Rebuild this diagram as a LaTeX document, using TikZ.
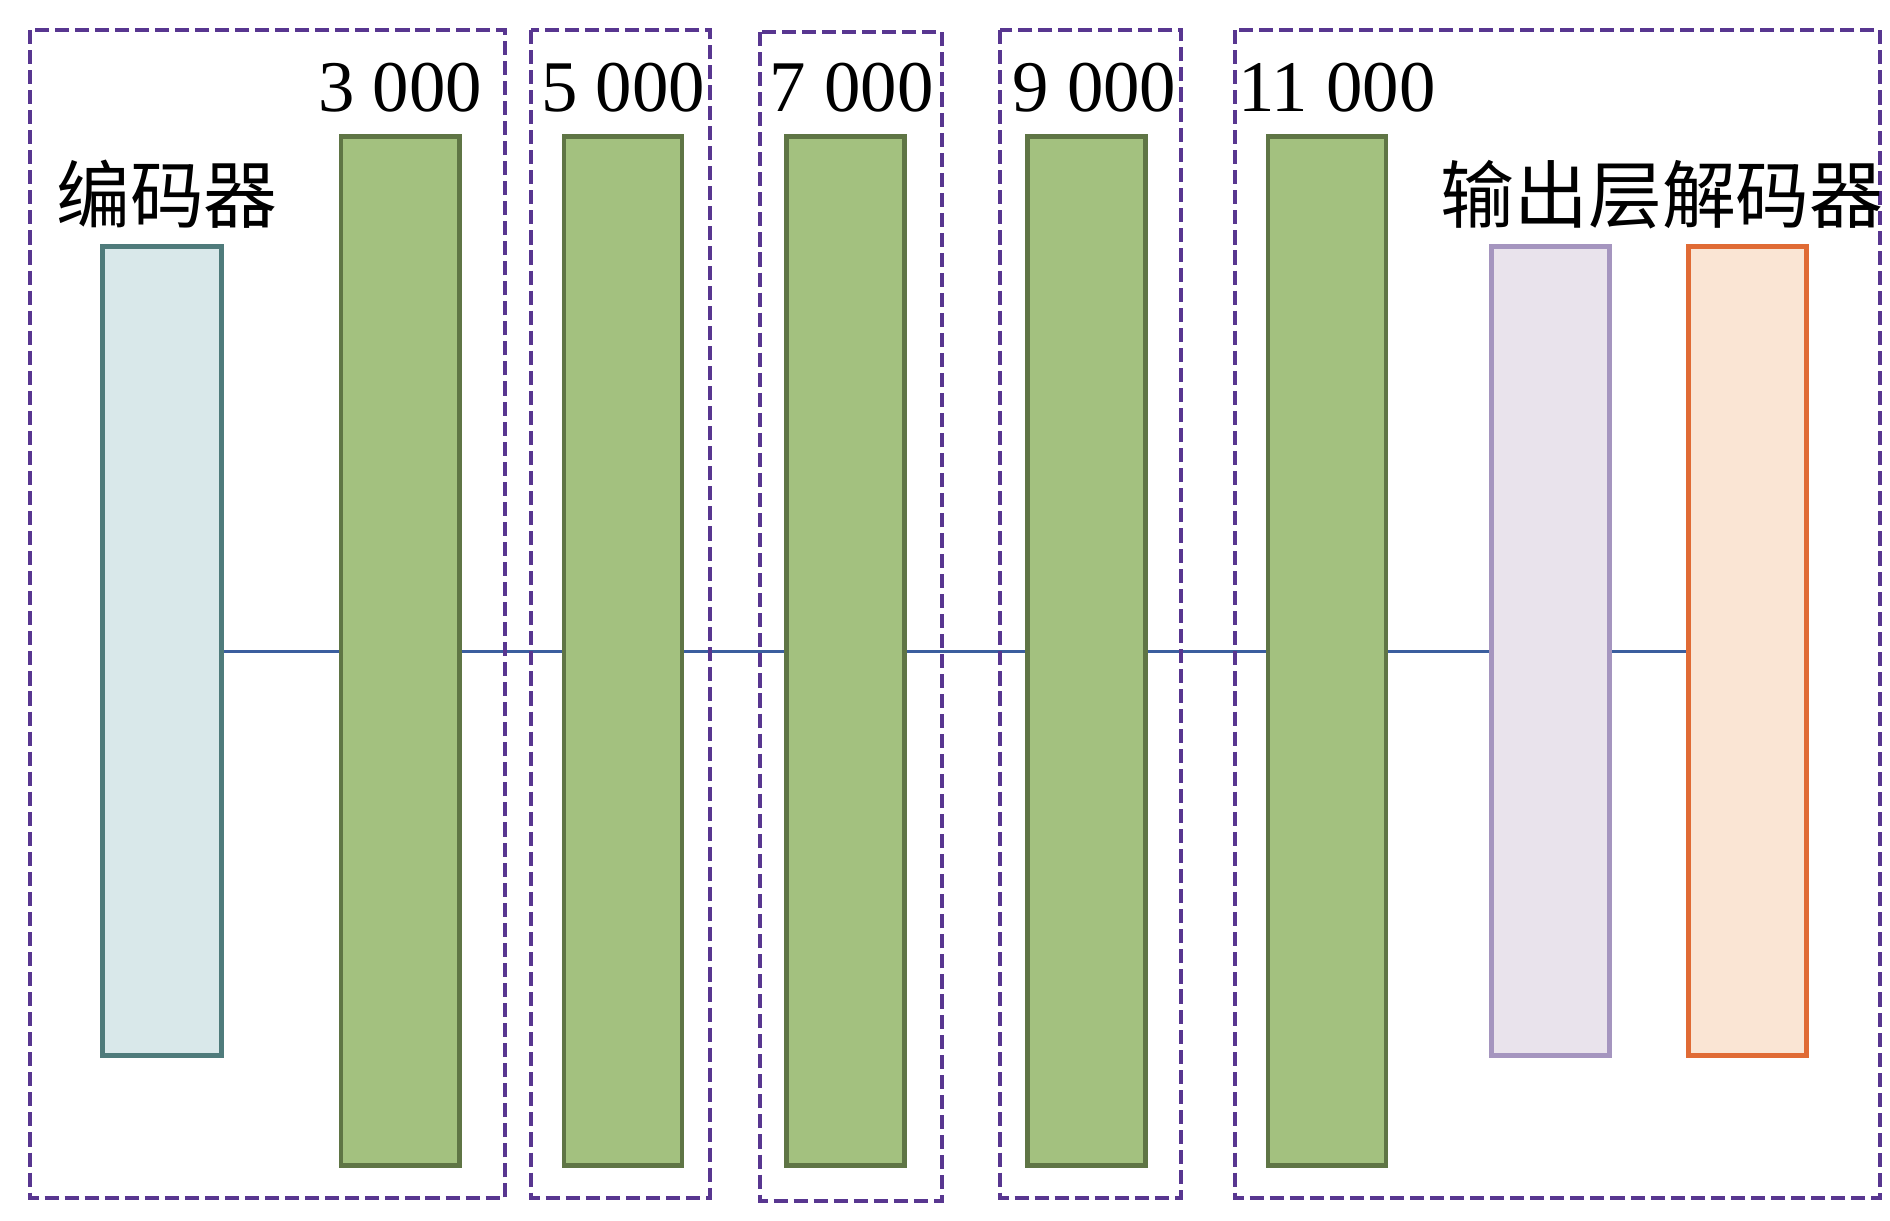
\documentclass[tikz,border=0pt]{standalone}
\usepackage{fontspec}
\setmainfont{Liberation Serif}
\newfontfamily\cjk{Noto Sans CJK SC}
\usepackage{xcolor}
\usepackage{tikz}
\usetikzlibrary{positioning}

\definecolor{encfill}{HTML}{D9E8EA}
\definecolor{encline}{HTML}{4F7B7B}
\definecolor{layfill}{HTML}{A3C17F}
\definecolor{layline}{HTML}{5F7545}
\definecolor{pfill}{HTML}{E9E3EC}
\definecolor{pline}{HTML}{A595BF}
\definecolor{decfill}{HTML}{FAE5D4}
\definecolor{decline}{HTML}{E06B35}
\definecolor{grpline}{HTML}{583690}
\definecolor{linkcol}{HTML}{3B5E9E}

\begin{document}
\begin{tikzpicture}[
  x=0.01cm, y=-0.01cm,
  bar/.style={draw, line width=1.3pt, inner sep=0pt,
              minimum width=1.18cm, minimum height=8.08cm},
  layer/.style={bar, fill=layfill, draw=layline, minimum height=10.28cm},
  num/.style={inner sep=0pt, font=\fontsize{20.7}{24}\selectfont},
  lbl/.style={inner sep=0pt, font=\cjk\fontsize{21}{24}\selectfont},
  grp/.style={draw=grpline, line width=1.3pt, dash pattern=on 4pt off 1.7pt},
  link/.style={draw=linkcol, line width=0.85pt}
]
\useasboundingbox (0,0) rectangle (1890,1221);

% encoder, hidden layers, decoder
\node[bar, fill=encfill, draw=encline, minimum width=1.19cm] (enc) at (162,651) {};
\node[layer, right=1.15cm of enc] (h1) {};
\node[layer, right=1.0cm of h1] (h2) {};
\node[layer, right=1.0cm of h2] (h3) {};
\node[layer, right=1.18cm of h3] (h4) {};
\node[layer, right=1.18cm of h4] (h5) {};
\node[bar, fill=pfill, draw=pline, right=1.01cm of h5] (outl) {};
\node[bar, fill=decfill, draw=decline, right=0.74cm of outl] (dec) {};

\draw[link] (enc) -- (h1);
\draw[link] (h1) -- (h2);
\draw[link] (h2) -- (h3);
\draw[link] (h3) -- (h4);
\draw[link] (h4) -- (h5);
\draw[link] (h5) -- (outl);
\draw[link] (outl) -- (dec);

% groups
\draw[grp] (30,30) rectangle (505,1198);
\draw[grp] (531,30) rectangle (710,1198);
\draw[grp] (760,32) rectangle (942,1201);
\draw[grp] (1000,30) rectangle (1181,1198);
\draw[grp] (1235,30) rectangle (1880,1198);

\node[num, above=0.21cm of h1] (n1) {3 000};
\node[num, above=0.21cm of h2] (n2) {5 000};
\node[num, above=0.21cm of h3, xshift=0.06cm] (n3) {7 000};
\node[num, above=0.21cm of h4, xshift=0.08cm] (n4) {9 000};
\node[num, above=0.21cm of h5, xshift=0.1cm] (n5) {11 000};

\node[lbl, above=0.15cm of enc, xshift=0.05cm] (enclbl) {编码器};
\node[lbl] (declbl) at (1662,195) {输出层解码器};
\end{tikzpicture}
\end{document}
